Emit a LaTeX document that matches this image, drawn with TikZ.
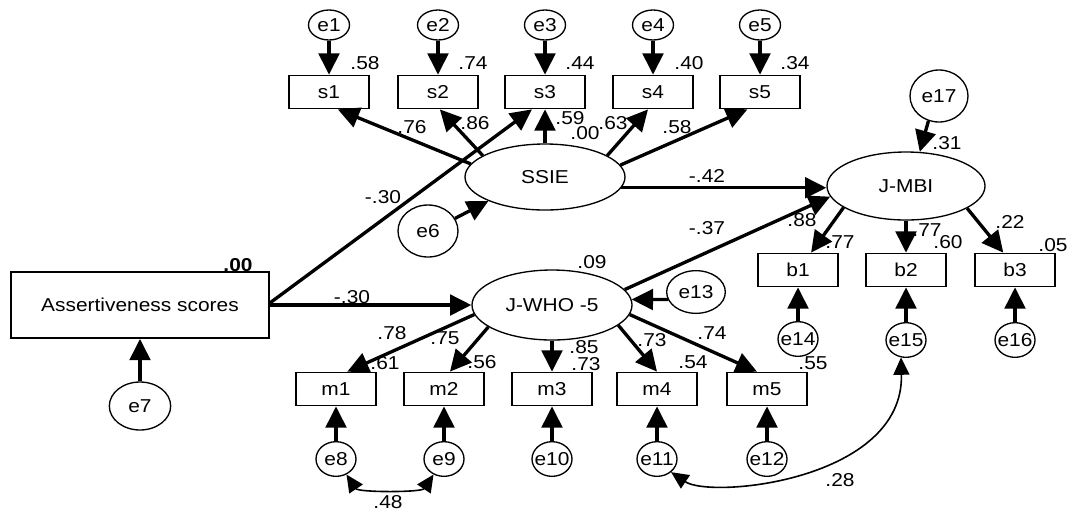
\documentclass[tikz,border=0pt]{standalone}
\usepackage{fontspec}
\setmainfont{Liberation Sans}[FakeStretch=1.12]
\usetikzlibrary{arrows.meta,shapes.geometric}
\tikzset{
	obs/.style={draw, line width=1.3pt, minimum width=60pt, minimum height=24.75pt, inner sep=0pt},
	lat/.style={draw, ellipse, line width=1pt, inner sep=0pt},
	err/.style={draw, ellipse, line width=1pt, minimum width=30pt, minimum height=26pt, inner xsep=-4pt, inner ysep=0pt},
	regr/.style={-{Triangle[length=16pt,width=15.5pt]}, line width=2.5pt},
	cov/.style={{Triangle[length=13pt,width=12pt]}-{Triangle[length=13pt,width=12pt]}, line width=1.2pt},
	coef/.style={inner sep=0pt}
}

\begin{document}
\begin{tikzpicture}[x=0.75pt,y=-0.75pt,font=\fontsize{14}{16}\selectfont]
			\useasboundingbox (0,0) rectangle (1070,512);

			% Latent variables
			\node[lat, minimum width=120pt, minimum height=49.5pt] (SSIE) at (545,177) {SSIE};
			\node[lat, minimum width=120pt, minimum height=52.5pt] (JWHO) at (552,305) {J-WHO -5};
			\node[lat, minimum width=118.5pt, minimum height=51pt] (JMBI) at (906,186) {J-MBI};

			% Observed variables
			\node[obs, minimum width=194pt, minimum height=49.5pt] (Assert) at (140,305) {Assertiveness scores};
			\node[obs] (s1) at (329,92) {s1};
			\node[obs] (s2) at (438,92) {s2};
			\node[obs] (s3) at (545,92) {s3};
			\node[obs] (s4) at (653,92) {s4};
			\node[obs] (s5) at (760,92) {s5};
			\node[obs] (m1) at (336,389) {m1};
			\node[obs] (m2) at (444,389) {m2};
			\node[obs] (m3) at (552,389) {m3};
			\node[obs] (m4) at (657,389) {m4};
			\node[obs] (m5) at (767,389) {m5};
			\node[obs] (b1) at (798,270) {b1};
			\node[obs] (b2) at (906,270) {b2};
			\node[obs] (b3) at (1015,270) {b3};

			% Errors
			\node[err, minimum width=30.75pt, minimum height=22.5pt] (e1) at (329,25) {e1};
			\node[err, minimum width=30.75pt, minimum height=22.5pt] (e2) at (438,25) {e2};
			\node[err, minimum width=30.75pt, minimum height=22.5pt] (e3) at (545,25) {e3};
			\node[err, minimum width=30.75pt, minimum height=22.5pt] (e4) at (653,25) {e4};
			\node[err, minimum width=30.75pt, minimum height=22.5pt] (e5) at (760,25) {e5};
			\node[err, minimum width=45pt, minimum height=39pt] (e6) at (428,231) {e6};
			\node[err, minimum width=46pt, minimum height=36pt] (e7) at (140,406) {e7};
			\node[err] (e8) at (336,459) {e8};
			\node[err] (e9) at (444,459) {e9};
			\node[err] (e10) at (552,459) {e10};
			\node[err] (e11) at (657,459) {e11};
			\node[err] (e12) at (767,459) {e12};
			\node[err, minimum width=44pt, minimum height=32pt] (e13) at (696,292) {e13};
			\node[err] (e14) at (798,339) {e14};
			\node[err] (e15) at (906,340) {e15};
			\node[err] (e16) at (1015,340) {e16};
			\node[err, minimum width=43.5pt, minimum height=39pt] (e17) at (939,96) {e17};

			% Error paths
			\draw[regr] (e1) -- (s1);
			\draw[regr] (e2) -- (s2);
			\draw[regr] (e3) -- (s3);
			\draw[regr] (e4) -- (s4);
			\draw[regr] (e5) -- (s5);
			\draw[regr] (e6.25) -- (SSIE.203);
			\draw[regr] (e7) -- (Assert);
			\draw[regr] (e8) -- (m1);
			\draw[regr] (e9) -- (m2);
			\draw[regr] (e10) -- (m3);
			\draw[regr] (e11) -- (m4);
			\draw[regr] (e12) -- (m5);
			\draw[regr] (e13.195) -- (JWHO.4);
			\draw[regr] (e14) -- (b1);
			\draw[regr] (e15) -- (b2);
			\draw[regr] (e16) -- (b3);
			\draw[regr] (e17.-113) -- (JMBI.68);

			% Loadings
			\draw[regr] (SSIE.170) -- (s1.-63);
			\draw[regr] (SSIE.161) -- (s2.-84);
			\draw[regr] (SSIE.north) -- (s3.south);
			\draw[regr] (SSIE.19) -- (s4.-106);
			\draw[regr] (SSIE.9) -- (s5.-126);
			\draw[regr] (JWHO.187) -- (m1.57);
			\draw[regr] (JWHO.199) -- (m2.71);
			\draw[regr] (JWHO.south) -- (m3.north);
			\draw[regr] (JWHO.-17) -- (m4.north);
			\draw[regr] (JWHO.-7) -- (m5.120);
			\draw[regr] (JMBI.199) -- (b1.53);
			\draw[regr] (JMBI.south) -- (b2.north);
			\draw[regr] (JMBI.-20) -- (b3.124);

			% Structural paths
			\draw[regr] (Assert.1) -- (s3.-127);
			\draw[regr] (Assert.east) -- (JWHO.west);
			\draw[regr] (SSIE.-8) -- (SSIE.-8 -| JMBI.west);
			\draw[regr] (JWHO.12) -- (JMBI.188);

			% Covariances
			\draw[cov] (e8.-56) .. controls +(12,18) and +(-12,18) .. (e9.-124);
			\draw[cov] (e11.-43) .. controls +(40,27) and +(3,123) .. (e15.-106);

			% Coefficients
			\node[coef] (rs1) at (365,63) {.58};
			\node[coef] (rs2) at (473,63) {.74};
			\node[coef] (rs3) at (580,63) {.44};
			\node[coef] (rs4) at (689,63) {.40};
			\node[coef] (rs5) at (795,63) {.34};
			\node[coef] (ls1) at (412,127) {.76};
			\node[coef] (ls2) at (475,123) {.86};
			\node[coef] (ls3) at (570,118) {.59};
			\node[coef] (rSSIE) at (585,133) {.00};
			\node[coef] (ls4) at (613,123) {.63};
			\node[coef] (ls5) at (677,127) {.58};
			\node[coef] (pAS) at (383,197) {-.30};
			\node[coef] (pAW) at (352,297) {-.30};
			\node[coef] (pSM) at (707,176) {-.42};
			\node[coef] (pWM) at (707,228) {-.37};
			\node[coef] (rAssert) at (238,265) {\textbf{.00}};
			\node[coef] (rJWHO) at (592,262) {.09};
			\node[coef] (rJMBI) at (947,143) {.31};
			\node[coef] (lm1) at (392,333) {.78};
			\node[coef] (lm2) at (445,338) {.75};
			\node[coef] (lm3) at (584,347) {.85};
			\node[coef] (lm4) at (652,340) {.73};
			\node[coef] (lm5) at (712,333) {.74};
			\node[coef] (rm1) at (385,363) {.61};
			\node[coef] (rm2) at (482,362) {.56};
			\node[coef] (rm3) at (586,364) {.73};
			\node[coef] (rm4) at (693,362) {.54};
			\node[coef] (rm5) at (813,363) {.55};
			\node[coef] (lb1) at (802,220) {.88};
			\node[coef] (rb1) at (840,242) {.77};
			\node[coef] (lb2) at (927,230) {.77};
			\node[coef] (rb2) at (948,242) {.60};
			\node[coef] (lb3) at (1010,222) {.22};
			\node[coef] (rb3) at (1053,245) {.05};
			\node[coef] (c89) at (388,502) {.48};
			\node[coef] (c1115) at (840,480) {.28};
		\end{tikzpicture}
\end{document}
